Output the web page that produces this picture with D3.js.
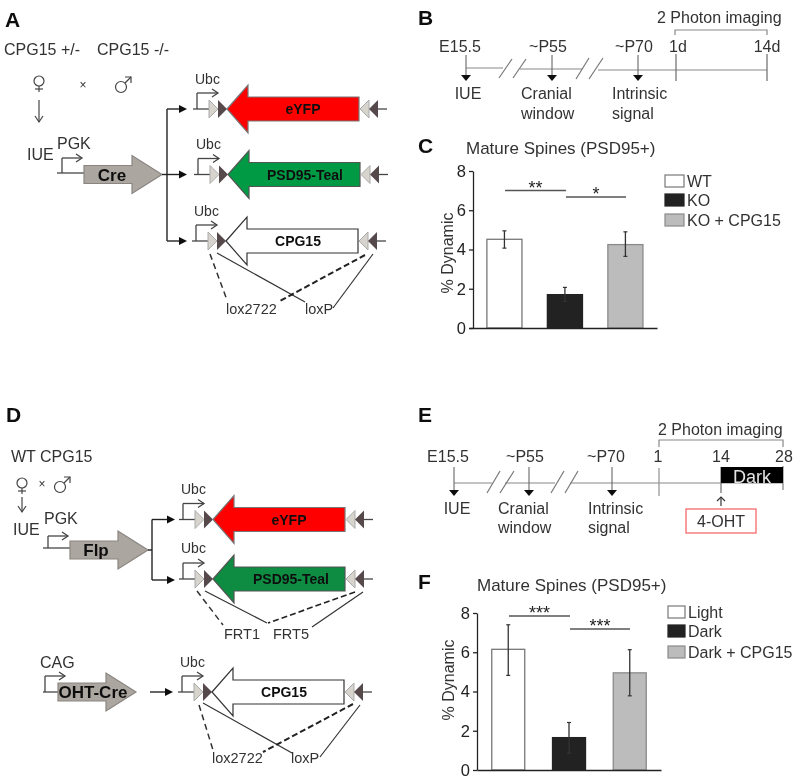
<!DOCTYPE html>
<html>
<head>
<meta charset="utf-8">
<script src="https://cdn.jsdelivr.net/npm/d3@7"></script>
<style>
    html, body { margin: 0; padding: 0; background: #fff; }
    text { font-family: "Liberation Sans", Arial, sans-serif; fill: #333; }
    svg { display: block; }
</style>
</head>
<body>
<svg id="fig" width="800" height="778"></svg>
<script>
// panel C
var groupsC = ["WT", "KO", "KO + CPG15"];
var meansC = [4.52, 1.7, 4.25];
var upperC = [4.95, 2.07, 4.9];
var lowerC = [4.07, 1.35, 3.65];
var starsC = ["**", "*"];

// panel F
var groupsF = ["Light", "Dark", "Dark + CPG15"];
var meansF = [6.15, 1.65, 4.95];
var upperF = [7.4, 2.42, 6.13];
var lowerF = [4.82, 0.85, 3.78];
var starsF = ["***", "***"];

var yTicks = [0, 2, 4, 6, 8];
var barColors = ["#ffffff", "#222222", "#bcbcbc"];
var barStrokes = ["#777777", "#222222", "#8a8a8a"];

// timeline labels
var timeTopB = ["E15.5", "~P55", "~P70", "1d", "14d"];
var timeTopE = ["E15.5", "~P55", "~P70", "1", "14", "28"];
var stepLabels = ["IUE", "Cranial", "window", "Intrinsic", "signal"];

var svg = d3.select("#fig");

// the reference is a slightly soft scan, same softness here
svg.append("defs").append("filter")
    .attr("id", "soft")
    .attr("filterUnits", "userSpaceOnUse")
    .attr("x", 0).attr("y", 0).attr("width", 800).attr("height", 778)
    .append("feGaussianBlur").attr("stdDeviation", 0.4);

var root = svg.append("g").attr("filter", "url(#soft)");
var lineCol = "#444";

function label(x, y, s, opt) {
    opt = opt || {};
    return root.append("text")
        .attr("x", x).attr("y", y)
        .attr("text-anchor", opt.anchor || "start")
        .style("font-size", (opt.size || 16) + "px")
        .style("font-weight", opt.bold ? "bold" : "normal")
        .style("fill", opt.fill || "#333")
        .text(s);
}

function seg(x1, y1, x2, y2, w, col, dash) {
    var l = root.append("line")
        .attr("x1", x1).attr("y1", y1).attr("x2", x2).attr("y2", y2)
        .attr("stroke", col || lineCol)
        .attr("stroke-width", w || 1.3);
    if (dash) l.attr("stroke-dasharray", dash);
    return l;
}

function poly(pts, fill, stroke, w) {
    return root.append("path")
        .attr("d", d3.line()(pts) + "Z")
        .attr("fill", fill)
        .attr("stroke", stroke || "none")
        .attr("stroke-width", w || 1);
}

// solid arrow to the right, used between the cre arrow and the constructs
function arrowRight(x1, x2, y) {
    seg(x1, y, x2 - 6, y, 1.4, "#222");
    poly([[x2 - 8, y - 4], [x2, y], [x2 - 8, y + 4]], "#111");
}

// promoter bend: stem from the line up, then an open arrow to the right
function promoter(xStart, xLine, xBend, xEnd, y, yTop) {
    seg(xStart, y, xLine, y, 1.3);
    seg(xBend, y, xBend, yTop, 1.3);
    seg(xBend, yTop, xEnd, yTop, 1.3);
    root.append("path")
        .attr("d", d3.line()([[xEnd - 6, yTop - 4], [xEnd, yTop], [xEnd - 6, yTop + 4]]))
        .attr("fill", "none").attr("stroke", lineCol).attr("stroke-width", 1.3);
}

// floxed construct, dx/y put the whole thing in place
function construct(dx, y, fill, stroke, name, nameX, ubcY) {
    promoter(193 + dx, 209 + dx, 197 + dx, 218 + dx, y, y - 16);
    label(195 + dx, ubcY, "Ubc", { size: 14 });
    poly([[209 + dx, y - 9], [218 + dx, y], [209 + dx, y + 9]], "#d6d4cc", "#aaa");
    poly([[218 + dx, y - 9], [227 + dx, y], [218 + dx, y + 9]], "#55494c");
    poly([[227 + dx, y], [248 + dx, y - 24], [248 + dx, y - 12], [359 + dx, y - 12],
        [359 + dx, y + 12], [248 + dx, y + 12], [248 + dx, y + 24]], fill, stroke, 1.2);
    label(nameX + dx, y + 5, name, { anchor: "middle", size: 14, bold: true, fill: "#111" });
    poly([[369 + dx, y - 9], [360 + dx, y], [369 + dx, y + 9]], "#d6d4cc", "#aaa");
    poly([[378 + dx, y - 9], [369 + dx, y], [378 + dx, y + 9]], "#55494c");
    seg(378 + dx, y, 387 + dx, y, 1.3);
}

function creArrow(x, y, name, nameX) {
    poly([[x, y - 9], [x + 48, y - 9], [x + 48, y - 19], [x + 78, y], [x + 48, y + 19],
        [x + 48, y + 9], [x, y + 9]], "#aca6a0", "#8a8580", 1.2);
    label(nameX, y + 6, name, { anchor: "middle", size: 17, bold: true, fill: "#111" });
}

function female(x, y) {
    root.append("circle").attr("cx", x).attr("cy", y).attr("r", 5)
        .attr("fill", "none").attr("stroke", lineCol).attr("stroke-width", 1.2);
    seg(x, y + 5, x, y + 11, 1.2);
    seg(x - 4, y + 8, x + 4, y + 8, 1.2);
}

function male(x, y) {
    root.append("circle").attr("cx", x).attr("cy", y).attr("r", 5.5)
        .attr("fill", "none").attr("stroke", lineCol).attr("stroke-width", 1.2);
    seg(x + 4, y - 4, x + 10, y - 10, 1.2);
    root.append("path")
        .attr("d", d3.line()([[x + 4, y - 10], [x + 10, y - 10], [x + 10, y - 4]]))
        .attr("fill", "none").attr("stroke", lineCol).attr("stroke-width", 1.2);
}

function arrowDownOpen(x, y1, y2) {
    seg(x, y1, x, y2, 1.2);
    root.append("path")
        .attr("d", d3.line()([[x - 4, y2 - 6], [x, y2], [x + 4, y2 - 6]]))
        .attr("fill", "none").attr("stroke", lineCol).attr("stroke-width", 1.2);
}

function timeArrow(x, y1, y2) {
    seg(x, y1, x, y2 - 4, 1.1, "#666");
    poly([[x - 5, y2 - 6], [x + 5, y2 - 6], [x, y2]], "#111");
}

function bars(o) {
    var g = root.append("g");
    var y = d3.scaleLinear().domain([0, 8]).range([o.y0, o.y8]);
    var x = d3.scaleBand().domain(o.groups).range([o.xStart, o.xEnd])
        .paddingInner(o.pInner).paddingOuter(o.pOuter).align(o.align);

    g.selectAll("rect.bar").data(o.groups).enter().append("rect")
        .attr("class", "bar")
        .attr("x", d => x(d))
        .attr("width", x.bandwidth())
        .attr("y", (d, i) => y(o.means[i]))
        .attr("height", (d, i) => o.y0 - y(o.means[i]))
        .attr("fill", (d, i) => barColors[i])
        .attr("stroke", (d, i) => barStrokes[i])
        .attr("stroke-width", 1.3);

    // error bars
    var cx = d => x(d) + x.bandwidth() / 2;
    g.selectAll("line.err").data(o.groups).enter().append("line")
        .attr("class", "err")
        .attr("x1", cx).attr("x2", cx)
        .attr("y1", (d, i) => y(o.upper[i]))
        .attr("y2", (d, i) => y(o.lower[i]))
        .attr("stroke", "#333").attr("stroke-width", 1.3);
    [o.upper, o.lower].forEach(arr => {
        g.selectAll(null).data(o.groups).enter().append("line")
            .attr("x1", d => cx(d) - 2).attr("x2", d => cx(d) + 2)
            .attr("y1", (d, i) => y(arr[i])).attr("y2", (d, i) => y(arr[i]))
            .attr("stroke", "#333").attr("stroke-width", 1.2);
    });

    var yAxis = d3.axisLeft(y).tickValues(yTicks).tickSize(4).tickPadding(3).tickSizeOuter(0);
    var ax = g.append("g").attr("transform", "translate(" + o.yAxisX + ",0)").call(yAxis);
    ax.selectAll("text").style("font-size", "16.5px").style("font-family", "Liberation Sans").style("fill", "#222");
    ax.selectAll("line,path").attr("stroke", "#222").attr("stroke-width", 1.3);

    var xAxis = d3.axisBottom(x).tickSize(0).tickFormat("");
    var bx = g.append("g").attr("transform", "translate(0," + o.y0 + ")").call(xAxis);
    bx.select("path").attr("stroke", "#222").attr("stroke-width", 1.3);

    label(o.titleX, o.titleY, "Mature Spines (PSD95+)", { size: 17 });
    root.append("text")
        .attr("transform", "translate(" + o.yLabelX + "," + o.yLabelY + ") rotate(-90)")
        .attr("text-anchor", "middle")
        .style("font-size", "16px")
        .text("% Dynamic");

    // significance lines
    o.sig.forEach((s, i) => {
        seg(s[0], s[2], s[1], s[2], 1.4, "#555");
        label((s[0] + s[1]) / 2, s[2] + 3, o.stars[i], { anchor: "middle", size: 18, fill: "#222" });
    });

    // legend
    o.groups.forEach((d, i) => {
        root.append("rect")
            .attr("x", o.legX).attr("y", o.legY[i] - 12)
            .attr("width", o.legW).attr("height", 12)
            .attr("fill", barColors[i]).attr("stroke", barStrokes[i]).attr("stroke-width", 1.2);
        label(o.legX + o.legW + 3, o.legY[i], d);
    });
}

// ---------- A ----------
label(5, 27, "A", { size: 21, bold: true, fill: "#111" });
label(4, 55, "CPG15 +/-");
label(97, 55, "CPG15 -/-");
female(39, 81);
label(83, 89, "\u00d7", { anchor: "middle", size: 12 });
male(121, 87);
arrowDownOpen(39, 100, 122);
label(27, 160, "IUE");
label(57, 149, "PGK");
promoter(57, 84, 62, 82, 173, 158);
creArrow(84, 174.5, "Cre", 112);

seg(162, 174.5, 167, 174.5, 1.4, "#222");
seg(167, 109, 167, 241, 1.4, "#222");
arrowRight(167, 187, 109);
arrowRight(167, 187, 174.5);
arrowRight(167, 187, 241);

construct(0, 109, "#ff0000", "#777", "eYFP", 303, 84);
construct(1, 174.5, "#009a44", "#555", "PSD95-Teal", 304, 149);
construct(-1, 241, "#ffffff", "#333", "CPG15", 299, 216);

seg(210, 254, 227, 300, 1.5, "#333", "6 4");
seg(217, 253, 305, 302, 1.2, "#333");
seg(365, 255, 278, 302, 2, "#222", "6 3");
seg(373, 254, 333, 308, 1.2, "#333");
label(226, 314, "lox2722", { size: 14.5 });
label(305, 314, "loxP", { size: 14.5 });

// ---------- B ----------
label(418, 25, "B", { size: 21, bold: true, fill: "#111" });
label(657, 23, "2 Photon imaging");
root.append("path").attr("d", d3.line()([[675, 35], [675, 30], [767, 30], [767, 35]]))
    .attr("fill", "none").attr("stroke", "#888").attr("stroke-width", 1.2);
[460, 548, 634, 678, 767].forEach((x, i) => label(x, 52, timeTopB[i], { anchor: "middle" }));
seg(466, 68, 503, 68, 1.2, "#888");
seg(520, 69, 582, 69, 1.2, "#888");
seg(598, 70, 767, 70, 1.2, "#888");
seg(499, 78, 512, 59, 1.2, "#777");
seg(513, 78, 526, 59, 1.2, "#777");
seg(576, 79, 589, 58, 1.2, "#777");
seg(589, 79, 603, 58, 1.2, "#777");
seg(676, 54, 676, 81, 1.3, "#777");
seg(767, 54, 767, 81, 1.3, "#777");
timeArrow(466, 55, 81);
timeArrow(552, 55, 81);
timeArrow(638, 55, 81);
label(468, 99, stepLabels[0], { anchor: "middle" });
label(521, 99, stepLabels[1]);
label(521, 119, stepLabels[2]);
label(612, 99, stepLabels[3]);
label(612, 119, stepLabels[4]);

// ---------- C ----------
label(418, 153, "C", { size: 21, bold: true, fill: "#111" });
bars({
    groups: groupsC, means: meansC, upper: upperC, lower: lowerC, stars: starsC,
    xStart: 469, xEnd: 657, yAxisX: 473, y0: 328, y8: 171,
    pInner: 0.42, pOuter: 0.264, align: 0.56,
    titleX: 466, titleY: 154, yLabelX: 453, yLabelY: 253,
    sig: [[505, 566, 190.5], [566, 626, 197]],
    legX: 665, legW: 19, legY: [187, 206, 226]
});

// ---------- D ----------
label(6, 422, "D", { size: 21, bold: true, fill: "#111" });
label(11, 462, "WT CPG15");
female(22, 483);
label(42, 488, "\u00d7", { anchor: "middle", size: 12 });
male(60, 487);
arrowDownOpen(22, 497, 512);
label(13, 535, "IUE");
label(44, 524, "PGK");
promoter(43, 70, 48, 68, 548, 536);
creArrow(70, 550, "Flp", 96);

seg(148, 550, 152, 550, 1.4, "#222");
seg(152, 519.5, 152, 580, 1.4, "#222");
arrowRight(152, 175, 519.5);
arrowRight(152, 175, 580);

construct(-14, 519.5, "#ff0000", "#777", "eYFP", 303, 494);
construct(-14, 579, "#0a8c42", "#555", "PSD95-Teal", 305, 553);
seg(197, 591, 223, 625, 1.5, "#333", "6 4");
seg(205, 591, 267, 623, 1.2, "#333");
seg(355, 592, 268, 623, 1.6, "#222", "6 3");
seg(363, 592, 312, 627, 1.2, "#333");
label(224, 639, "FRT1", { size: 14.5 });
label(273, 639, "FRT5", { size: 14.5 });

label(40, 668, "CAG");
promoter(43, 58, 45, 65, 692, 676);
creArrow(58, 692, "OHT-Cre", 93);
arrowRight(150, 173, 692);
construct(-15, 692, "#ffffff", "#333", "CPG15", 299, 667);
seg(199, 705, 213, 750, 1.5, "#333", "6 4");
seg(203, 703, 292, 753, 1.2, "#333");
seg(353, 704, 263, 752, 2, "#222", "6 3");
seg(360, 705, 320, 757, 1.2, "#333");
label(212, 763, "lox2722", { size: 14.5 });
label(291, 763, "loxP", { size: 14.5 });

// ---------- E ----------
label(418, 422, "E", { size: 21, bold: true, fill: "#111" });
label(658, 435, "2 Photon imaging");
root.append("path").attr("d", d3.line()([[659, 447], [659, 440], [783, 440], [783, 447]]))
    .attr("fill", "none").attr("stroke", "#888").attr("stroke-width", 1.2);
[448, 525, 606, 658, 721, 784].forEach((x, i) => label(x, 462, timeTopE[i], { anchor: "middle" }));
seg(454, 483, 492, 483, 1.2, "#888");
seg(505, 483, 555, 483, 1.2, "#888");
seg(570, 483, 783, 483, 1.2, "#888");
seg(487, 493, 500, 471, 1.2, "#777");
seg(500, 493, 514, 471, 1.2, "#777");
seg(551, 493, 564, 471, 1.2, "#777");
seg(565, 493, 578, 471, 1.2, "#777");
seg(659, 468, 659, 496, 1.3, "#999");
seg(783, 466, 783, 490, 1.3, "#888");
seg(721, 467, 721, 493, 1.3, "#777");
root.append("rect").attr("x", 721).attr("y", 467).attr("width", 62).attr("height", 16).attr("fill", "#000");
label(752, 483, "Dark", { anchor: "middle", size: 18, fill: "#e4e4e4" });
timeArrow(454, 467, 496);
timeArrow(529, 467, 496);
timeArrow(612, 467, 496);
seg(721, 506, 721, 497, 1.2, "#333");
root.append("path").attr("d", d3.line()([[717, 501], [721, 497], [725, 501]]))
    .attr("fill", "none").attr("stroke", "#333").attr("stroke-width", 1.2);
root.append("rect").attr("x", 686).attr("y", 509).attr("width", 70).attr("height", 24)
    .attr("fill", "#fff").attr("stroke", "#f56a6a").attr("stroke-width", 1.3);
label(721, 527, "4-OHT", { anchor: "middle" });
label(457, 514, stepLabels[0], { anchor: "middle" });
label(498, 514, stepLabels[1]);
label(498, 533, stepLabels[2]);
label(588, 514, stepLabels[3]);
label(588, 533, stepLabels[4]);

// ---------- F ----------
label(418, 589, "F", { size: 21, bold: true, fill: "#111" });
bars({
    groups: groupsF, means: meansF, upper: upperF, lower: lowerF, stars: starsF,
    xStart: 477, xEnd: 661, yAxisX: 477, y0: 770, y8: 613,
    pInner: 0.457, pOuter: 0.243, align: 0.5,
    titleX: 477, titleY: 591, yLabelX: 454, yLabelY: 680,
    sig: [[509, 570, 616], [570, 630, 629]],
    legX: 668, legW: 17, legY: [618, 637, 658]
});
</script>
</body>
</html>
